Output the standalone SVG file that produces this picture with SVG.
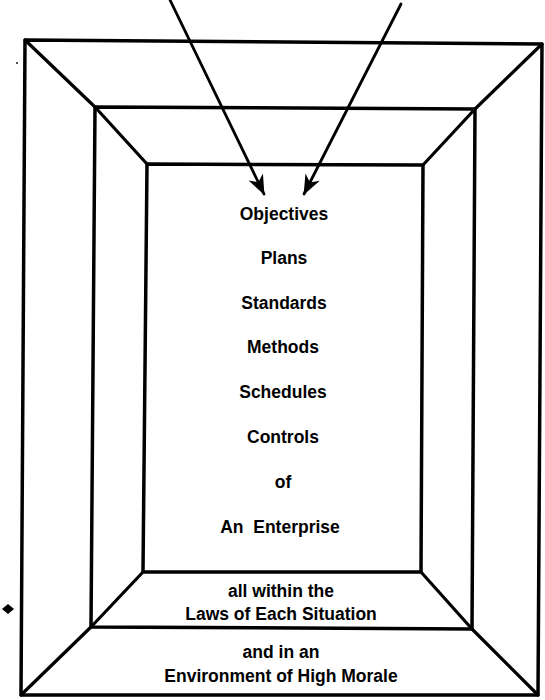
<svg xmlns="http://www.w3.org/2000/svg" width="545" height="700" viewBox="0 0 545 700">
<defs>
<style>
.frame{fill:none;stroke:#000;stroke-width:3.5;stroke-linejoin:round;stroke-linecap:round}
.diag{fill:none;stroke:#000;stroke-width:3.2;stroke-linejoin:round;stroke-linecap:round}
.arrow{fill:none;stroke:#000;stroke-width:2.8;stroke-linecap:round}
.t{font-family:"Liberation Sans",Arial,sans-serif;font-weight:bold;font-size:17.5px;text-anchor:middle;fill:#000}
</style>
<marker id="head" markerUnits="userSpaceOnUse" markerWidth="26" markerHeight="22" viewBox="-22 -11 26 22" refX="0" refY="0" orient="auto">
<path d="M1,0 L-19,-8 L-13,0 L-19,8 Z" fill="#000"/>
</marker>
</defs>
<rect width="545" height="700" fill="#fff"/>
<g id="outer-frame">
<polygon class="frame" points="25,40 542,44 538,695 21,695"/>
</g>
<g id="middle-frame">
<polygon class="frame" points="95,107 475,109 472,629 91,627"/>
</g>
<g id="inner-frame">
<polygon class="frame" points="147,164 423,165 421,572 143,572"/>
</g>
<g id="perspective-edges">
<polyline class="diag" points="25,40 95,107 147,164"/>
<polyline class="diag" points="542,44 475,109 423,165"/>
<polyline class="diag" points="538,695 472,629 421,572"/>
<polyline class="diag" points="21,695 91,627 143,572"/>
</g>
<g id="center-list">
<text class="t" x="284" y="220">Objectives</text>
<text class="t" x="284" y="264">Plans</text>
<text class="t" x="284" y="309">Standards</text>
<text class="t" x="283" y="353">Methods</text>
<text class="t" x="283" y="398">Schedules</text>
<text class="t" x="283" y="443">Controls</text>
<text class="t" x="283" y="488">of</text>
<text class="t" x="280" y="533" xml:space="preserve">An  Enterprise</text>
</g>
<g id="laws-band">
<text class="t" x="281" y="597">all within the</text>
<text class="t" x="281" y="620">Laws of Each Situation</text>
</g>
<g id="environment-band">
<text class="t" x="281" y="658">and in an</text>
<text class="t" x="281" y="682">Environment of High Morale</text>
</g>
<g id="marks">
<polygon points="2,609 8,604 14,609 8,614" fill="#000"/>
<circle cx="17" cy="63" r="0.9" fill="#000"/>
</g>
<g id="connectors">
<line class="arrow" x1="170" y1="0" x2="264" y2="194" marker-end="url(#head)"/>
<line class="arrow" x1="401" y1="4" x2="304" y2="194" marker-end="url(#head)"/>
</g>
</svg>
